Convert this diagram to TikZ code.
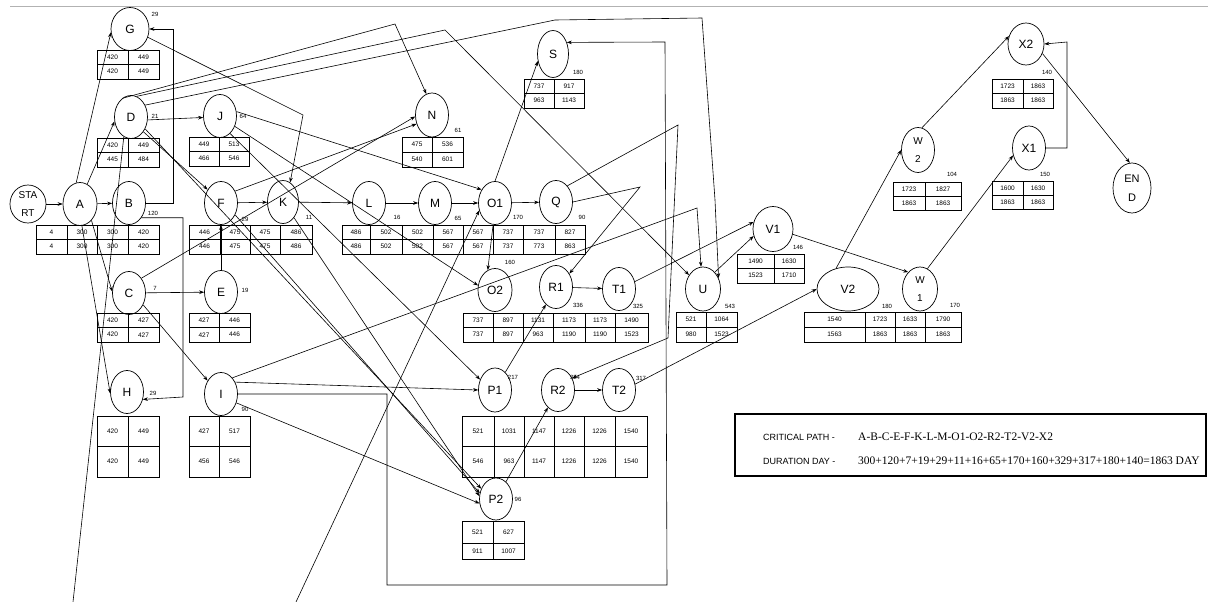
\documentclass[tikz,border=0pt]{standalone}
\usepackage{fontspec}
\setmainfont{Liberation Sans}
\newfontfamily\cpserif{Liberation Serif}
\usetikzlibrary{shapes.geometric,arrows.meta}
\tikzset{
  ev/.style={draw, ellipse, line width=0.7pt, inner sep=0pt, minimum width=33pt, minimum height=43pt, font=\fontsize{12}{12}\selectfont},
  ev2/.style={ev, align=center, font=\fontsize{10}{18}\selectfont},
  arr/.style={line width=0.6pt, -{Stealth[length=5pt,width=3.6pt]}},
  ln/.style={line width=0.6pt},
  tb/.style={line width=0.7pt},
  num/.style={font=\fontsize{6.5}{6.5}\selectfont, inner sep=0pt},
  dur/.style={font=\fontsize{6}{6}\selectfont, inner sep=0pt},
}
\newcommand\numtab[5][0.5]{%
  \pgfmathsetmacro\tabm{#3+#1*(#4-#3)}%
  \foreach \xl/\xr/\va/\vb [count=\i] in {#5}{%
    \draw[tb] (\xl,#3) rectangle (\xr,#4) (\xl,\tabm) -- (\xr,\tabm);
    \node[num] (#2a\i) at ({(\xl+\xr)/2},{(#3+\tabm)/2}) {\va};
    \node[num] (#2b\i) at ({(\xl+\xr)/2},{(\tabm+#4)/2}) {\vb};
  }%
}
\begin{document}
\begin{tikzpicture}[x=1pt,y=-1pt]
\useasboundingbox (0,0) rectangle (1208,602);
\draw[gray!60, line width=1pt] (10,7) -- (1208,7);

% events
\node[ev2, minimum width=36pt, minimum height=38pt] (STA) at (28,204) {STA\\RT};
\node[ev, minimum width=34pt] (A) at (80,204) {A};
\node[ev] (B) at (129,203) {B};
\node[ev, minimum width=38pt] (G) at (130,29) {G};
\node[ev] (D) at (131,117) {D};
\node[ev] (J) at (220,116) {J};
\node[ev] (F) at (221,203) {F};
\node[ev, minimum width=31pt] (K) at (283,202) {K};
\node[ev] (C) at (129,293) {C};
\node[ev] (E) at (221,292) {E};
\node[ev] (H) at (127,392) {H};
\node[ev] (I) at (221,394) {I};
\node[ev] (L) at (369,203) {L};
\node[ev] (M) at (435,203) {M};
\node[ev] (O1) at (495,203) {O1};
\node[ev] (Q) at (556,202) {Q};
\node[ev, minimum height=44pt] (N) at (432,115) {N};
\node[ev, minimum width=31pt, minimum height=47pt] (S) at (553,54) {S};
\node[ev, minimum width=34pt] (O2) at (495,290) {O2};
\node[ev] (R1) at (556,287) {R1};
\node[ev] (T1) at (619,289) {T1};
\node[ev, minimum width=35pt, minimum height=44pt] (U) at (703,289) {U};
\node[ev, minimum width=40pt, minimum height=45pt] (V1) at (773,229) {V1};
\node[ev, minimum width=62pt, minimum height=44pt] (V2) at (848,289) {V2};
\node[ev2, minimum width=35pt, minimum height=44pt] (W1) at (920,289) {W\\1};
\node[ev2, minimum width=33pt, minimum height=45pt] (W2) at (918,150) {W\\2};
\node[ev, minimum height=44pt] (X1) at (1029,148) {X1};
\node[ev, minimum width=36pt, minimum height=42pt] (X2) at (1026,44) {X2};
\node[ev2, minimum width=38pt, minimum height=50pt, font=\fontsize{11}{19}\selectfont] (END) at (1132,188) {EN\\D};
\node[ev, minimum height=44pt] (P1) at (495,390) {P1};
\node[ev] (R2) at (558,390) {R2};
\node[ev] (T2) at (619,390) {T2};
\node[ev, minimum height=42pt] (P2) at (496,499) {P2};

% tables
\numtab{tG}{50}{79}{97/128/420/420, 128/159/449/449}
\numtab{tD}{138}{167}{97/128/420/445, 128/159/449/484}
\numtab{tJ}{137}{166}{189/219/449/466, 219/249/513/546}
\numtab{tAB}{225}{254}{36/67/4/4, 67/97/300/300, 97/128/300/300, 128/159/420/420}
\numtab{tFK}{225}{254}{189/220/446/446, 220/250/475/475, 250/280/475/475, 280/312/486/486}
\numtab{tC}{313}{342}{97/128/420/420, 128/159/427/427}
\numtab{tE}{313}{342}{189/219/427/427, 219/250/446/446}
\numtab{tH}{416}{477}{97/128/420/420, 128/159/449/449}
\numtab{tI}{416}{477}{189/219/427/456, 219/250/517/546}
\numtab{tLQ}{225}{254}{342/370/486/486, 370/402/502/502, 402/433/502/502, 433/463/567/567, 463/493/567/567, 493/523/737/737, 523/555/737/773, 555/585/827/863}
\numtab{tN}{137}{167}{402/432/475/540, 432/463/536/601}
\numtab{tS}{79}{108}{524/554/737/963, 554/584/917/1143}
\numtab{tOT}{313}{342}{463/493/737/737, 493/523/897/897, 523/553/1131/963, 553/585/1173/1190, 585/615/1173/1190, 615/648/1490/1523}
\numtab{tU}{312}{342}{676/706/521/980, 706/737/1064/1523}
\numtab{tVa}{254}{283}{737/774/1490/1523, 774/804/1630/1710}
\numtab{tVW}{312}{342}{804/865/1540/1563, 865/895/1723/1863, 895/925/1633/1863, 925/961/1790/1863}
\numtab{tWb}{182}{210}{893/925/1723/1863, 925/961/1827/1863}
\numtab{tXb}{79}{108}{992/1023/1723/1863, 1023/1053/1863/1863}
\numtab{tXa}{181}{209}{992/1023/1600/1863, 1023/1053/1630/1863}
\numtab{tPT}{416}{477}{462/494/521/546, 494/524/1031/963, 524/554/1147/1147, 554/584/1226/1226, 584/615/1226/1226, 615/647/1540/1540}
\numtab[0.6]{tP}{521}{559}{462/493/521/911, 493/524/627/1007}

% durations
\node[dur] (dG) at (155,14) {29};
\node[dur] (dD) at (155,116) {21};
\node[dur] (dJ) at (243,116) {64};
\node[dur] (dB) at (153,213) {120};
\node[dur] (dF) at (245,219) {29};
\node[dur] (dK) at (309,217) {11};
\node[dur] (dL) at (397,217) {16};
\node[dur] (dM) at (458,218) {65};
\node[dur] (dO1) at (518,217) {170};
\node[dur] (dQ) at (582,217) {90};
\node[dur] (dN) at (458,130) {61};
\node[dur] (dS) at (578,72) {180};
\node[dur] (dC) at (155,288) {7};
\node[dur] (dE) at (245,290) {19};
\node[dur] (dH) at (153,393) {29};
\node[dur] (dI) at (245,409) {90};
\node[dur] (dO2) at (510,262) {160};
\node[dur] (dR1) at (578,305) {336};
\node[dur] (dT1) at (638,306) {325};
\node[dur] (dU) at (730,306) {543};
\node[dur] (dV1) at (798,247) {146};
\node[dur] (dV2) at (887,306) {180};
\node[dur] (dW1) at (955,305) {170};
\node[dur] (dW2) at (952,174) {104};
\node[dur] (dX2) at (1047,72) {140};
\node[dur] (dX1) at (1045,174) {150};
\node[dur] (dP1) at (513,377) {217};
\node[dur] (dR2) at (575,377) {324};
\node[dur] (dT2) at (641,378) {317};
\node[dur] (dP2) at (518,499) {96};

% connectors
\coordinate (bl1) at (73,602);
\coordinate (bl2) at (296,602);
\draw[arr] (STA) -- (A);
\draw[arr] (A) -- (B);
\draw[arr] (A.100) -- (G.190);
\draw[arr] (A.70) -- (D.195);
\draw[arr] (A.-55) -- (C.175);
\draw[arr] (A.-85) -- (H.185);
\draw[arr] (B.east) -- (173,203) |- (G.east);
\draw[arr] (B.-50) -| (183,397) -- (H.-25);
\draw[arr] (D.-10) -- (J.185);
\draw[arr] (D.-50) -- (F.135);
\draw[arr] (D.115) -- (395,24) -- (N.105);
\draw[arr] (D.75) -- (445,30) -- (U.135);
\draw[arr] (D.40) -- (555,20) -- (702,18) -- (715,200) -- (U.35);
\draw[arr] (G.-25) -- (303,115) -- (K.70);
\draw[arr] (J.15) -- (O1.135);
\draw[arr] (J.-35) -- (O2.165);
\draw[arr] (J.-60) -- (P1.145);
\draw[arr] (D.-40) -- (P2.145);
\draw[arr] (F.-40) -- (P2.160);
\draw[arr] (K.-55) -- (P2.170);
\draw[arr] (C.50) -- (N.185);
\draw[arr] (F.40) -- (N.210);
\draw[arr] (C) -- (E);
\draw[arr] (C.-40) -- (I.135);
\draw[arr] (E.north) -- (F.south);
\draw[arr] (F) -- (K);
\draw[arr] (K) -- (L);
\draw[arr] (L) -- (M);
\draw[arr] (M) -- (O1);
\draw[arr] (O1) -- (Q);
\draw[arr] (O1.north) -- (S.205);
\draw[arr] (O1.-95) -- (O2.110);
\draw[arr] (Q.east) -- (640,187) -- (R1.45);
\draw[arr] (Q.55) -- (678,125) -- (668,338) -- (R2.40);
\draw[arr] (R1) -- (T1);
\draw[arr] (T1.25) -- (V1.160);
\draw[arr] (U.55) -- (V1.200);
\draw[arr] (V1.-15) -- (W1.125);
\draw[arr] (I.55) -- (697,208) -- (U.95);
\draw[arr] (I.east) -- (387,394) -- (387,585) -- (667,585) -- (665,42) -- (S.40);
\draw[arr] (I.40) -- (P1.west);
\draw[arr] (I.-30) -- (P2.195);
\draw[arr] (P1.60) -- (R1.-120);
\draw[arr] (P2.60) -- (R2.-120);
\draw[arr] (R2) -- (T2);
\draw[arr] (T2.20) -- (V2.west);
\draw[arr] (V2.120) -- (W2.west);
\draw[arr] (W1.70) -- (X1.205);
\draw[arr] (W2.80) -- (X2.155);
\draw[arr] (X1.east) -| (1067,42) -- (X2.east);
\draw[arr] (X2.-30) -- (END.95);
\draw[ln] (bl1) -- (D.-110);
\draw[arr] (bl2) -- (O1.-155);

% critical path box
\node[draw, line width=1.3pt, minimum width=471pt, minimum height=62pt, inner sep=0pt] (cp) at (970.5,445) {};
\node[anchor=west, inner sep=0pt, font=\fontsize{9}{9}\selectfont] (cpl) at (763,437) {CRITICAL PATH -};
\node[anchor=west, inner sep=0pt, font=\cpserif\fontsize{11.5}{11.5}\selectfont] (cpv) at (858,437) {A-B-C-E-F-K-L-M-O1-O2-R2-T2-V2-X2};
\node[anchor=west, inner sep=0pt, font=\fontsize{9}{9}\selectfont] (cdl) at (763,461) {DURATION DAY -};
\node[anchor=west, inner sep=0pt, font=\cpserif\fontsize{11.5}{11.5}\selectfont] (cdv) at (858,461) {300+120+7+19+29+11+16+65+170+160+329+317+180+140=1863 DAY};
\end{tikzpicture}
\end{document}
